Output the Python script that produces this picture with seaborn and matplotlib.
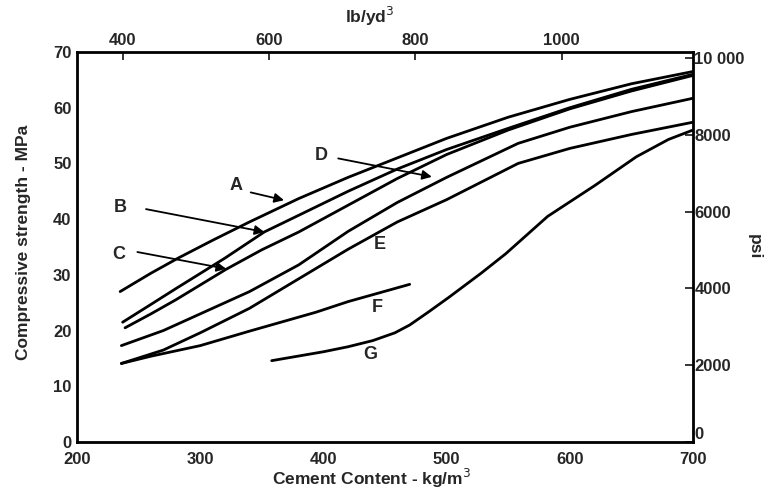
import numpy as np
import pandas as pd
import matplotlib
matplotlib.use("Agg")
import matplotlib.pyplot as plt
import seaborn as sns

# ------------------------------------------------------------
# Data (cement content kg/m3 vs strength MPa)
# ------------------------------------------------------------
a_x = [235, 260, 282, 310, 340, 380, 420, 460, 500, 550, 600, 650, 700]
a_y = [27.0, 30.3, 33.0, 36.2, 39.5, 43.7, 47.5, 51.0, 54.5, 58.3, 61.5, 64.3, 66.5]

b_x = [237, 260, 280, 320, 352, 380, 420, 460, 500, 550, 600, 650, 700]
b_y = [21.5, 24.7, 27.5, 33.0, 37.7, 40.7, 45.0, 49.0, 52.5, 56.3, 60.0, 63.3, 66.0]

c_x = [239, 260, 280, 321, 350, 380, 420, 460, 500, 550, 600, 650, 700]
c_y = [20.5, 23.0, 25.5, 31.0, 34.5, 37.7, 42.5, 47.3, 51.6, 56.0, 59.8, 63.0, 65.8]

d_x = [236, 270, 300, 340, 380, 420, 460, 500, 558, 600, 650, 700]
d_y = [17.3, 20.0, 23.0, 27.0, 31.8, 37.8, 43.0, 47.5, 53.6, 56.5, 59.3, 61.7]

e_x = [236, 270, 300, 340, 380, 420, 460, 500, 558, 600, 650, 700]
e_y = [14.1, 16.5, 19.6, 24.0, 29.3, 34.6, 39.5, 43.5, 50.0, 52.7, 55.2, 57.4]

f_x = [236, 260, 300, 340, 394, 420, 470]
f_y = [14.1, 15.4, 17.3, 19.9, 23.3, 25.2, 28.3]

g_x = [358, 400, 420, 440, 458, 470, 485, 502, 528, 548, 582, 620, 654, 680, 700]
g_y = [14.6, 16.2, 17.1, 18.2, 19.6, 21.0, 23.3, 26.0, 30.3, 33.8, 40.5, 46.0, 51.2, 54.3, 56.0]

curves = {"A": (a_x, a_y), "B": (b_x, b_y), "C": (c_x, c_y), "D": (d_x, d_y),
          "E": (e_x, e_y), "F": (f_x, f_y), "G": (g_x, g_y)}

# curve labels: text position, arrow tail, arrow head (None = no arrow)
label_pos = {
    "A": ((329, 46.0), (341, 44.8), (368, 43.4)),
    "B": ((235, 42.1), (256, 41.8), (352, 37.7)),
    "C": ((234, 33.7), (249, 34.1), (321, 31.1)),
    "D": ((398, 51.4), (412, 50.9), (488, 47.6)),
    "E": ((446, 35.5), None, None),
    "F": ((444, 24.2), None, None),
    "G": ((438, 15.7), None, None),
}

x_ticks = [200, 300, 400, 500, 600, 700]
y_ticks = [0, 10, 20, 30, 40, 50, 60, 70]
top_ticks = [400, 600, 800, 1000]
psi_ticks = [0, 2000, 4000, 6000, 8000, 10000]
psi_labels = ["0", "2000", "4000", "6000", "8000", "10 000"]

# ------------------------------------------------------------
# Plot
# ------------------------------------------------------------
sns.set_style("white")
plt.rcParams["font.family"] = ["Liberation Sans", "DejaVu Sans"]

fig = plt.figure(figsize=(7.71, 4.92), dpi=100)
ax = fig.add_axes([0.0999, 0.1016, 0.7990, 0.7927])

for name, (xs, ys) in curves.items():
    df = pd.DataFrame({"x": xs, "y": ys})
    sns.lineplot(data=df, x="x", y="y", ax=ax, color="black", linewidth=2.0, sort=False)

for name, (txt, tail, head) in label_pos.items():
    ax.text(txt[0], txt[1], name, fontsize=13, ha="center", va="center", fontweight="bold")
    if tail is not None:
        ax.annotate("", xy=head, xytext=tail,
                    arrowprops=dict(arrowstyle="-|>", color="black", lw=1.3,
                                    mutation_scale=14, shrinkA=0, shrinkB=0))

ax.set_xlim(200, 700)
ax.set_ylim(0, 70)
ax.set_xticks(x_ticks)
ax.set_yticks(y_ticks)
ax.tick_params(axis="x", direction="in", length=6, width=1.3, labelsize=12, pad=7)
ax.tick_params(axis="y", direction="in", length=6, width=1.3, labelsize=12, pad=4)
for lab in ax.get_xticklabels() + ax.get_yticklabels():
    lab.set_fontweight("bold")
ax.set_xlabel("Cement Content - kg/m$^3$", fontsize=12.5, fontweight="bold")
ax.xaxis.set_label_coords(0.478, -0.065)
ax.set_ylabel("Compressive strength - MPa", fontsize=12.5, fontweight="bold")
ax.yaxis.set_label_coords(-0.075, 0.513)

for sp in ax.spines.values():
    sp.set_linewidth(2.0)
    sp.set_color("black")

# top axis lb/yd3
top = ax.secondary_xaxis("top", functions=(lambda k: k * 1.6856, lambda l: l / 1.6856))
top.set_xticks(top_ticks)
top.tick_params(direction="in", length=6, width=1.3, labelsize=12, pad=3)
for lab in top.get_xticklabels():
    lab.set_fontweight("bold")
fig.text(370 / 771, 1 - 16 / 492, "lb/yd$^3$", fontsize=12.5, fontweight="bold",
         ha="center", va="center")

# right axis psi
right = ax.secondary_yaxis("right", functions=(lambda m: m * 145.04, lambda p: p / 145.04))
right.set_yticks(psi_ticks)
right.set_yticklabels(psi_labels)
right.tick_params(direction="in", length=6, width=1.3, labelsize=12, pad=1)
for lab in right.get_yticklabels():
    lab.set_fontweight("bold")
right.get_yticklabels()[0].set_va("bottom")
right.set_ylabel("psi", fontsize=12.5, rotation=270, labelpad=12, fontweight="bold")

fig.savefig("out.png", dpi=100)
